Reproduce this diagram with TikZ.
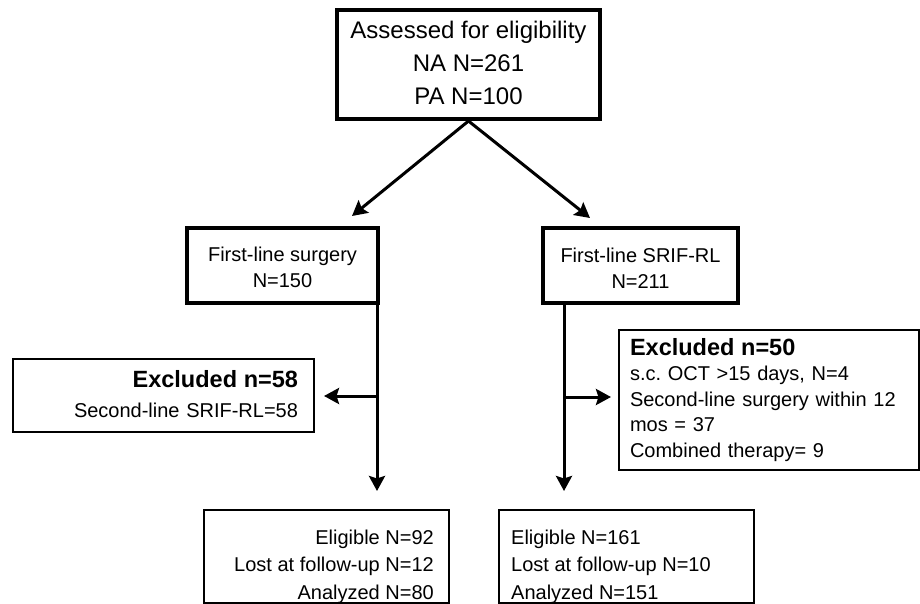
\documentclass[tikz,border=0pt]{standalone}
\usepackage{fontspec}
\setmainfont{Liberation Sans}
\usetikzlibrary{arrows.meta}
\frenchspacing
\begin{document}
\begin{tikzpicture}[x=1pt,y=-1pt,
  thickbox/.style={draw, line width=4pt, inner sep=0pt},
  thinbox/.style={draw, line width=2pt, inner sep=0pt},
  arr/.style={line width=3pt, -{Stealth[length=15pt,width=16pt,inset=2.5pt]}},
  big/.style={font=\fontsize{24}{33}\selectfont},
  mid/.style={font=\fontsize{20}{26}\selectfont},
  txt/.style={font=\fontsize{20}{27.5}\selectfont, inner sep=0pt}]
\useasboundingbox (0,0) rectangle (920,604);

% top box
\node[thickbox, minimum width=263pt, minimum height=109pt, big, align=center] (assess) at (468.5,64.5)
  {Assessed for eligibility\\NA N=261\\PA N=100\rule[-4pt]{0pt}{0pt}};

% first line boxes
\node[thickbox, minimum width=191pt, minimum height=75pt, mid, align=center] (surg) at (282.5,265.5)
  {\rule{0pt}{19pt}First-line surgery\\N=150};
\node[thickbox, minimum width=195pt, minimum height=75pt, mid, align=center] (srif) at (640.5,265.5)
  {\rule{0pt}{19pt}First-line SRIF-RL\\N=211};

% excluded boxes
\node[thinbox, minimum width=301pt, minimum height=73pt, text width=269pt, inner xsep=16pt,
      align=right, font=\fontsize{20}{30}\selectfont] (exA) at (163.5,395.5)
  {{\fontsize{23.5}{30}\selectfont\bfseries Excluded n=58}\\Second-line SRIF-RL=58\rule[-4pt]{0pt}{0pt}};
\node[thinbox, minimum width=300pt, minimum height=140pt, text width=278pt, inner xsep=11pt,
      align=left, font=\fontsize{20}{25.5}\selectfont] (exB) at (769,400)
  {{\fontsize{23.5}{25.5}\selectfont\bfseries Excluded n=50}\\s.c.\ OCT >15 days, N=4\\Second-line surgery within 12\\mos = 37\\Combined therapy= 9};

% bottom boxes
\node[thinbox, minimum width=245pt, minimum height=93pt] (elA) at (326.5,556.5) {};
\node[txt, align=right, anchor=north east] (elAt) at (434,529.5)
  {Eligible N=92\\Lost at follow-up N=12\\Analyzed N=80};
\node[thinbox, minimum width=255pt, minimum height=93pt] (elB) at (626.5,556.5) {};
\node[txt, align=left, anchor=north west] (elBt) at (511,529.5)
  {Eligible N=161\\Lost at follow-up N=10\\Analyzed N=151};

% connectors
\coordinate (tipA) at (352,216);
\coordinate (tipB) at (590,218);
\draw[arr] (assess.south) -- (tipA);
\draw[arr] (assess.south) -- (tipB);

\coordinate (jA) at (377,396);
\coordinate (jB) at (564,397);
\draw[line width=3pt] (surg.south east -| jA) -- (jA);
\draw[arr, shorten >=18pt] (jA) -- (jA |- elA.north);
\draw[arr, shorten >=9pt] (jA) -- (exA.east |- jA);

\draw[line width=3pt] (srif.south -| jB) -- (jB);
\draw[arr, shorten >=18pt] (jB) -- (jB |- elB.north);
\draw[arr, shorten >=7pt] (jB) -- (exB.west |- jB);
\end{tikzpicture}
\end{document}
